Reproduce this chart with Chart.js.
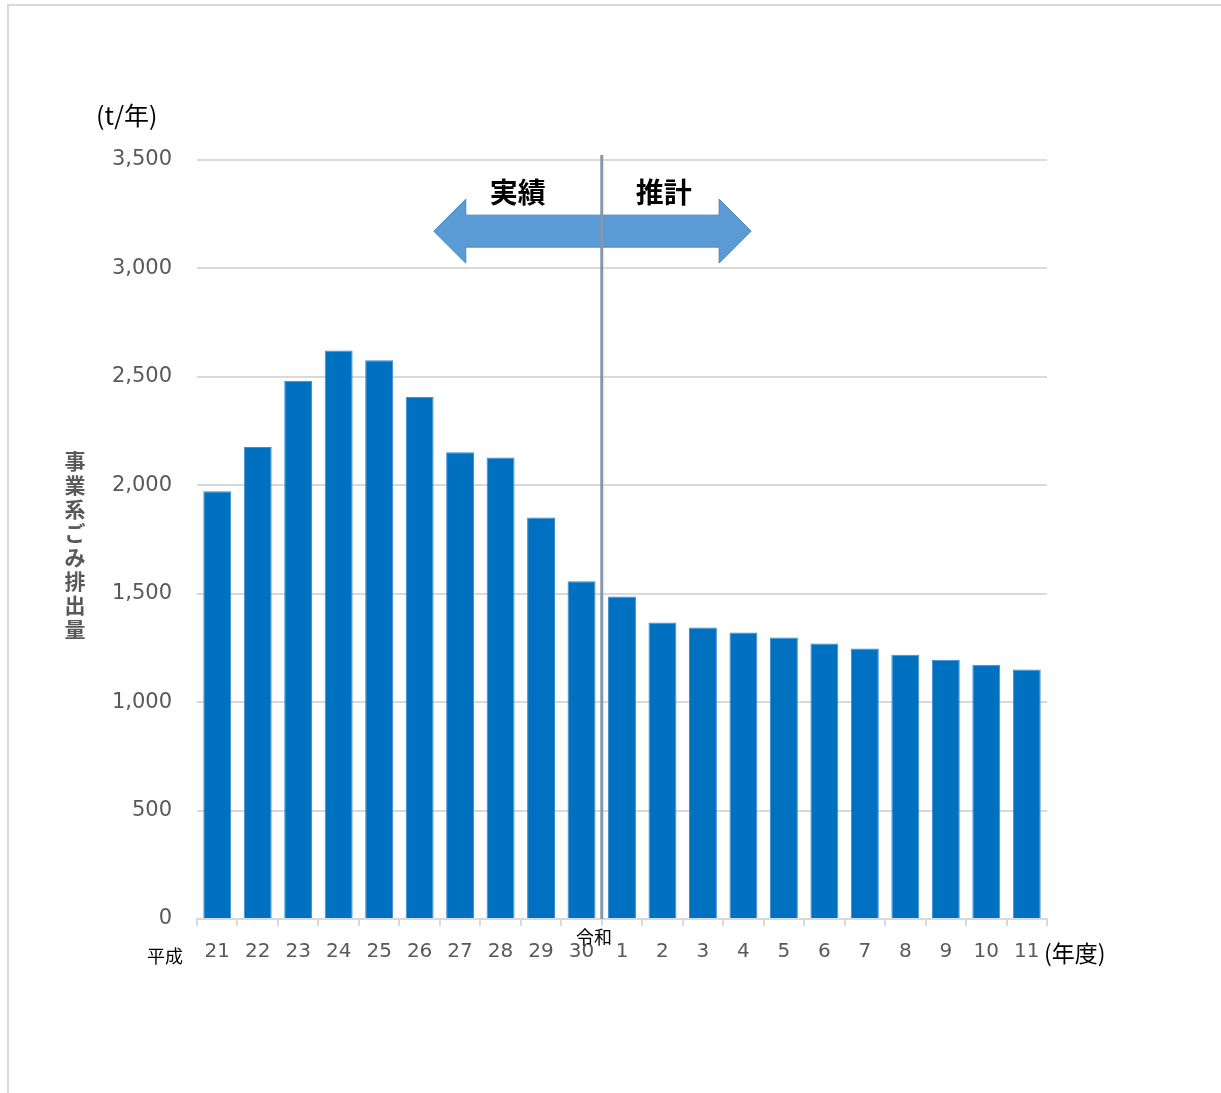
<!DOCTYPE html>
<html lang="ja">
<head>
<meta charset="utf-8">
<title>事業系ごみ排出量</title>
<script src="https://cdn.jsdelivr.net/npm/chart.js@4/dist/chart.umd.min.js"></script>
<style>
  html, body { margin: 0; padding: 0; background: #ffffff; }
  #wrap { position: relative; width: 1221px; height: 1093px; }
  canvas { display: block; }
</style>
</head>
<body>
<div id="wrap"><canvas id="chart" width="1221" height="1093"></canvas></div>
<script>
// 年度ラベル（平成21〜30、令和1〜11）
const years = ['21','22','23','24','25','26','27','28','29','30','1','2','3','4','5','6','7','8','9','10','11'];
// 事業系ごみ排出量（t/年）
const wasteTons = [1972, 2177, 2482, 2622, 2577, 2407, 2152, 2128, 1852, 1557, 1487, 1367, 1344, 1321, 1298, 1270, 1247, 1219, 1196, 1173, 1150];
// 縦軸の目盛
const yTicks = [0, 500, 1000, 1500, 2000, 2500, 3000, 3500];
// 実績と推計の境目（平成30と令和1の間）
const lastActualIndex = 9;

const JP = '"Noto Sans CJK JP", "Noto Sans", sans-serif';
const NUM = '"DejaVu Sans", Verdana, sans-serif';
const GREY = '#595959';
const GRID = '#d9d9d9';

// 枠線・注記・矢印などを描くプラグイン
const decorations = {
  id: 'decorations',
  beforeDraw(chart) {
    const ctx = chart.ctx;
    ctx.save();
    ctx.fillStyle = '#ffffff';
    ctx.fillRect(0, 0, chart.width, chart.height);
    ctx.strokeStyle = GRID;
    ctx.lineWidth = 2;
    ctx.beginPath();
    ctx.moveTo(8, chart.height);
    ctx.lineTo(8, 5);
    ctx.lineTo(chart.width, 5);
    ctx.stroke();
    ctx.restore();
  },
  afterDraw(chart) {
    const ctx = chart.ctx;
    const x = chart.scales.x, y = chart.scales.y;
    const area = chart.chartArea;
    ctx.save();

    // 実績／推計の区切り線
    const divX = (x.getPixelForValue(lastActualIndex) + x.getPixelForValue(lastActualIndex + 1)) / 2;
    ctx.strokeStyle = '#8497b0';
    ctx.lineWidth = 3;
    ctx.beginPath();
    ctx.moveTo(divX, area.top - 5);
    ctx.lineTo(divX, area.bottom);
    ctx.stroke();

    // 両方向矢印
    const left = x.getPixelForValue(5.35), right = x.getPixelForValue(13.19);
    const cy = y.getPixelForValue(3172);
    const headHalf = 32, shaftHalf = 16, headLen = 32;
    ctx.beginPath();
    ctx.moveTo(left, cy);
    ctx.lineTo(left + headLen, cy - headHalf);
    ctx.lineTo(left + headLen, cy - shaftHalf);
    ctx.lineTo(right - headLen, cy - shaftHalf);
    ctx.lineTo(right - headLen, cy - headHalf);
    ctx.lineTo(right, cy);
    ctx.lineTo(right - headLen, cy + headHalf);
    ctx.lineTo(right - headLen, cy + shaftHalf);
    ctx.lineTo(left + headLen, cy + shaftHalf);
    ctx.lineTo(left + headLen, cy + headHalf);
    ctx.closePath();
    ctx.fillStyle = '#5b9bd5';
    ctx.fill();
    ctx.strokeStyle = '#4a86bf';
    ctx.lineWidth = 1;
    ctx.stroke();

    // 区切り線を矢印の上に重ねる
    ctx.strokeStyle = '#8497b0';
    ctx.lineWidth = 3;
    ctx.beginPath();
    ctx.moveTo(divX, cy - shaftHalf - 1);
    ctx.lineTo(divX, cy + shaftHalf + 1);
    ctx.stroke();

    // 実績・推計
    ctx.fillStyle = '#000000';
    ctx.font = 'bold 28px ' + JP;
    ctx.textAlign = 'center';
    ctx.textBaseline = 'middle';
    ctx.fillText('実績', divX - 84, 192);
    ctx.fillText('推計', divX + 62, 192);

    // 単位
    ctx.font = '25px ' + JP;
    ctx.textAlign = 'left';
    ctx.fillText('(t/年)', 96, 115);

    // 縦書きの軸タイトル
    ctx.font = 'bold 21px ' + JP;
    ctx.fillStyle = GREY;
    ctx.textAlign = 'center';
    const title = '事業系ごみ排出量';
    const step = 24;
    const startY = 461;
    for (let i = 0; i < title.length; i++) {
      ctx.fillText(title[i], 75, startY + i * step);
    }

    // 元号・年度の注記
    ctx.fillStyle = '#000000';
    ctx.font = '18px ' + JP;
    ctx.textAlign = 'left';
    ctx.fillText('平成', 147, 956);
    ctx.fillText('令和', 576, 937);
    ctx.font = '23px ' + JP;
    ctx.fillText('(年度)', 1044, 953);
    ctx.restore();
  }
};

new Chart(document.getElementById('chart'), {
  type: 'bar',
  data: {
    labels: years,
    datasets: [{
      data: wasteTons,
      backgroundColor: '#0070c0',
      borderColor: '#3d8bd0',
      borderWidth: { top: 1, left: 1, right: 1, bottom: 0 },
      borderSkipped: 'bottom',
      categoryPercentage: 1,
      barPercentage: 0.69
    }]
  },
  options: {
    responsive: false,
    animation: false,
    events: [],
    layout: { padding: { left: 0, top: 160, right: 174, bottom: 0 } },
    plugins: { legend: { display: false }, tooltip: { enabled: false }, title: { display: false } },
    scales: {
      x: {
        offset: true,
        afterFit(scale) { scale.height = 174; },
        grid: {
          offset: true,
          drawOnChartArea: false,
          drawTicks: true,
          tickLength: 7,
          color: GRID,
          lineWidth: 2
        },
        border: { display: true, color: GRID, width: 2 },
        ticks: {
          color: GREY,
          font: { family: NUM, size: 20 },
          padding: 14,
          maxRotation: 0,
          autoSkip: false
        }
      },
      y: {
        min: 0,
        max: 3500,
        afterFit(scale) { scale.width = 197; },
        afterBuildTicks(scale) { scale.ticks = yTicks.map(v => ({ value: v })); },
        grid: { color: GRID, lineWidth: 2, drawTicks: false },
        border: { display: false },
        ticks: {
          color: GREY,
          font: { family: NUM, size: 21 },
          padding: 25,
          callback: v => v.toLocaleString('en-US')
        }
      }
    }
  },
  plugins: [decorations]
});
</script>
</body>
</html>
